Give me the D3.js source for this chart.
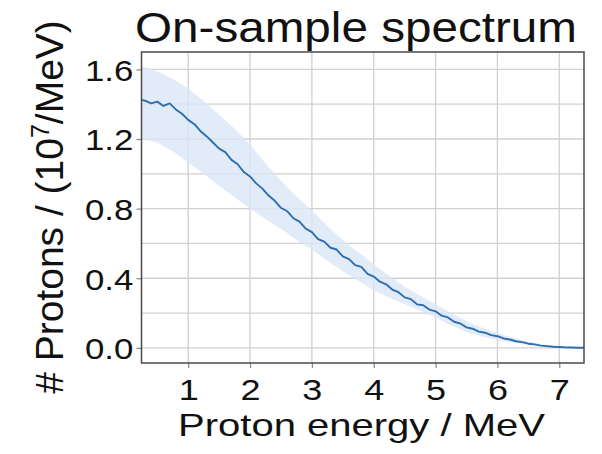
<!DOCTYPE html>
<html>
<head>
<meta charset="utf-8">
<script src="https://cdn.jsdelivr.net/npm/d3@7"></script>
<style>
  html, body { margin: 0; padding: 0; background: #fff; }
  svg { display: block; }
  text { font-family: "Liberation Sans", Arial, sans-serif; fill: #111; }
</style>
</head>
<body>
<svg id="chart" width="602" height="454"></svg>
<script>
// ---- Data ----
const energy = [0.25,0.3,0.4,0.5,0.6,0.7,0.8,0.9,1.0,1.1,1.2,1.3,1.4,1.5,1.6,1.7,1.8,1.9,2.0,
  2.1,2.2,2.3,2.4,2.5,2.6,2.7,2.8,2.9,3.0,3.1,3.2,3.3,3.4,3.5,3.6,3.7,3.8,3.9,4.0,
  4.1,4.2,4.3,4.4,4.5,4.6,4.7,4.8,4.9,5.0,5.1,5.2,5.3,5.4,5.5,5.6,5.7,5.8,5.9,6.0,
  6.1,6.2,6.3,6.4,6.5,6.6,6.7,6.8,6.9,7.0,7.1,7.2,7.3,7.4];
const protons = [1.425,1.42,1.405,1.415,1.39,1.405,1.37,1.345,1.31,1.285,1.245,1.215,1.18,1.145,1.125,1.08,1.055,1.01,0.985,
  0.945,0.915,0.875,0.845,0.805,0.785,0.745,0.725,0.685,0.665,0.625,0.61,0.575,0.565,0.525,0.51,0.475,0.465,0.425,0.41,
  0.38,0.365,0.335,0.32,0.29,0.28,0.25,0.245,0.22,0.21,0.185,0.175,0.15,0.14,0.118,0.11,0.093,0.087,0.073,0.067,
  0.054,0.048,0.038,0.033,0.024,0.02,0.013,0.01,0.006,0.005,0.003,0.002,0.001,0.001];

const bandEnergy = [0.25,0.5,0.75,1.0,1.25,1.5,1.75,2.0,2.25,2.5,2.75,3.0,3.25,3.5,3.75,4.0,4.25,4.5,4.75,5.0,
  5.25,5.5,5.75,6.0,6.25,6.5,6.75,7.0,7.25,7.4];
const bandUpper = [1.62,1.59,1.545,1.49,1.42,1.34,1.26,1.17,1.06,0.96,0.87,0.79,0.70,0.62,0.55,0.48,0.415,0.35,0.30,0.25,
  0.20,0.155,0.115,0.085,0.058,0.036,0.02,0.01,0.004,0.002];
const bandLower = [1.20,1.18,1.13,1.065,1.0,0.93,0.865,0.80,0.74,0.685,0.62,0.565,0.50,0.44,0.385,0.33,0.29,0.25,0.215,0.175,
  0.13,0.09,0.065,0.045,0.03,0.016,0.008,0.002,0,0];

const xTicks = [1,2,3,4,5,6,7];
const yTicks = [0.0,0.4,0.8,1.2,1.6];
const yGrid = [0.0,0.2,0.4,0.6,0.8,1.0,1.2,1.4,1.6];

const titleText = "On-sample spectrum";
const xLabel = "Proton energy / MeV";

// ---- Layout ----
const svg = d3.select("#chart");
const L = 141.5, R = 584, T = 52, B = 363;

const x = d3.scaleLinear().domain([0.245, 7.40]).range([L, R]);
const y = d3.scaleLinear().domain([-0.087, 1.70]).range([B, T]);

svg.append("defs").append("clipPath").attr("id", "clip")
  .append("rect").attr("x", L).attr("y", T).attr("width", R - L).attr("height", B - T);

// grid
const grid = svg.append("g");
grid.selectAll("line.h").data(yGrid).enter().append("line")
  .attr("x1", L).attr("x2", R).attr("y1", d => y(d)).attr("y2", d => y(d))
  .attr("stroke", "#d0d0d0").attr("stroke-width", 1.3);
grid.selectAll("line.v").data(xTicks).enter().append("line")
  .attr("y1", T).attr("y2", B).attr("x1", d => x(d)).attr("x2", d => x(d))
  .attr("stroke", "#d0d0d0").attr("stroke-width", 1.3);

// band
const bandData = bandEnergy.map((e, i) => ({ e, lo: bandLower[i], hi: bandUpper[i] }));
svg.append("path").datum(bandData)
  .attr("clip-path", "url(#clip)")
  .attr("fill", "#dbe7f6").attr("fill-opacity", 0.8)
  .attr("d", d3.area().x(d => x(d.e)).y0(d => y(d.lo)).y1(d => y(d.hi)));

// line
const lineData = energy.map((e, i) => ({ e, v: protons[i] }));
svg.append("path").datum(lineData)
  .attr("clip-path", "url(#clip)")
  .attr("fill", "none").attr("stroke", "#2d6eae").attr("stroke-width", 1.9)
  .attr("stroke-linejoin", "round")
  .attr("d", d3.line().x(d => x(d.e)).y(d => y(d.v)));

// axes
const xAxis = svg.append("g").attr("transform", `translate(0,${B})`)
  .call(d3.axisBottom(x).tickValues(xTicks).tickSize(5).tickPadding(11).tickFormat(d3.format("d")));
const yAxis = svg.append("g").attr("transform", `translate(${L},0)`)
  .call(d3.axisLeft(y).tickValues(yTicks).tickSize(5).tickPadding(4).tickFormat(d3.format(".1f")));
[xAxis, yAxis].forEach(a => {
  a.select(".domain").remove();
  a.selectAll(".tick line").attr("stroke", "#888").attr("stroke-width", 1.2);
  a.selectAll(".tick text").attr("fill", "#111").style("font-family", '"Liberation Sans", Arial, sans-serif')
    .style("font-size", "30px");
});
xAxis.selectAll(".tick text").attr("dy", null).attr("y", 37).attr("transform", "scale(1.2,1)");
yAxis.selectAll(".tick text").attr("dy", "0.36em").attr("transform", "scale(1.16,1)").attr("x", -7);

// frame
svg.append("rect").attr("x", L).attr("y", T).attr("width", R - L).attr("height", B - T)
  .attr("fill", "none").attr("stroke", "#4a4a4a").attr("stroke-width", 1.5);

// title
svg.append("text").attr("x", 135).attr("y", 42)
  .attr("textLength", 442).attr("lengthAdjust", "spacingAndGlyphs")
  .style("font-size", "42px").text(titleText);

// x label
svg.append("text").attr("x", 178).attr("y", 436)
  .attr("textLength", 367).attr("lengthAdjust", "spacingAndGlyphs")
  .style("font-size", "32px").text(xLabel);

// y label
const yl = svg.append("text").attr("transform", "translate(63,207) rotate(-90)")
  .attr("text-anchor", "middle").style("font-size", "39px");
yl.append("tspan").text("# Protons / (10");
yl.append("tspan").attr("dy", -14).style("font-size", "25px").text("7");
yl.append("tspan").attr("dy", 14).text("/MeV)");
</script>
</body>
</html>
